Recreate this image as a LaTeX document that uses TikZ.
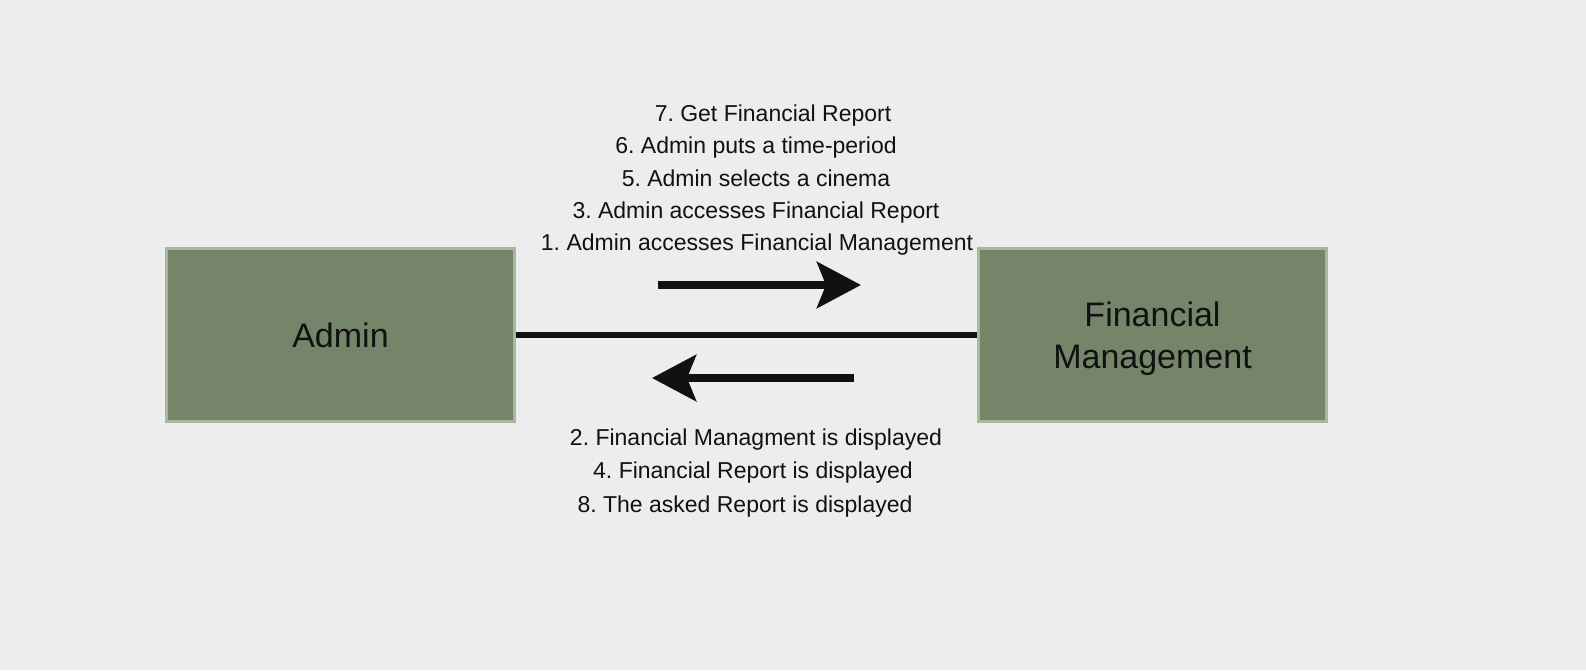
\documentclass[tikz,border=0pt]{standalone}
\usepackage{fontspec}
\setmainfont{Liberation Sans}
\usetikzlibrary{arrows.meta}
\definecolor{bg}{HTML}{EDEDED}
\definecolor{boxfill}{HTML}{748569}
\definecolor{boxline}{HTML}{A7B89F}
\definecolor{ink}{HTML}{111111}
\frenchspacing
\begin{document}
\begin{tikzpicture}[x=1pt,y=-1pt,
  entity/.style={draw=boxline,line width=3pt,fill=boxfill,minimum width=348pt,minimum height=173pt,inner sep=0pt,text=ink,font=\fontsize{34}{42}\selectfont,align=center,text depth=0pt},
  lbl/.style={text=ink,font=\fontsize{23}{28}\selectfont,inner sep=0pt,text height=16.5pt,text depth=4.8pt},
  flow/.style={draw=ink,line width=8pt,-{Stealth[length=44pt,width=46pt,inset=9pt]}}]
\fill[bg] (0,0) rectangle (1586,670);
\useasboundingbox (0,0) rectangle (1586,670);
\node[entity] (admin) at (340.5,335) {Admin};
\node[entity] (fm) at (1152.5,335) {Financial\\Management};
\draw[ink,line width=5.5pt] (admin.east) -- (fm.west);
\coordinate (a1s) at (658,285);
\coordinate (a1e) at (861,285);
\coordinate (a2s) at (854,378);
\coordinate (a2e) at (652,378);
\draw[flow] (a1s) -- (a1e);
\draw[flow] (a2s) -- (a2e);
\node[lbl] (t7) at (773,116) {7. Get Financial Report};
\node[lbl] (t6) at (756,148) {6. Admin puts a time-period};
\node[lbl] (t5) at (756,181) {5. Admin selects a cinema};
\node[lbl] (t3) at (756,213) {3. Admin accesses Financial Report};
\node[lbl] (t1) at (757,245) {1. Admin accesses Financial Management};
\node[lbl] (t2) at (756,440) {2. Financial Managment is displayed};
\node[lbl] (t4) at (753,473) {4. Financial Report is displayed};
\node[lbl] (t8) at (745,507) {8. The asked Report is displayed};
\end{tikzpicture}
\end{document}
